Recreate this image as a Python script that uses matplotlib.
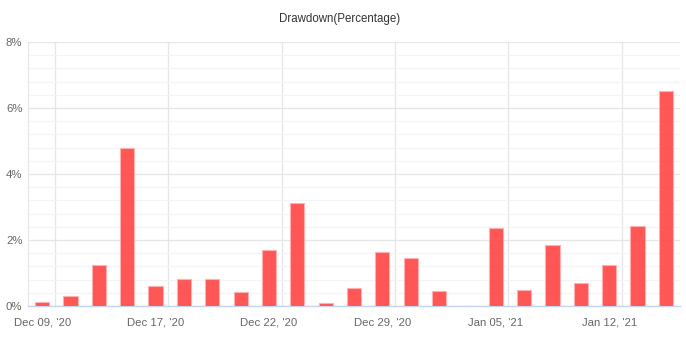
import numpy as np
import matplotlib
matplotlib.use('Agg')
import matplotlib.pyplot as plt
from matplotlib.ticker import MultipleLocator, FuncFormatter

# drawdown per period, in percent (one empty period, value 0)
drawdown = [0.11, 0.29, 1.23, 4.79, 0.60, 0.81, 0.81, 0.41,
            1.69, 3.11, 0.08, 0.55, 1.64, 1.45, 0.45, 0.0,
            2.35, 0.50, 1.85, 0.70, 1.23, 2.42, 6.52]
# labels shown every 4th category
tick_labels = ["Dec 09, '20", "Dec 17, '20", "Dec 22, '20",
               "Dec 29, '20", "Jan 05, '21", "Jan 12, '21"]
label_step = 4

plt.rcParams['font.family'] = ['Liberation Sans', 'DejaVu Sans']

fig = plt.figure(figsize=(6.86, 3.39), dpi=100)
ax = fig.add_axes([28 / 686, 33 / 339, 652 / 686, 264 / 339])

x = np.arange(len(drawdown))
ax.bar(x, drawdown, width=0.5, color=(1.0, 0.3, 0.3, 0.95),
       edgecolor='#ffb0b0', linewidth=0.8, zorder=3)

ax.set_xlim(-0.5, len(drawdown) - 0.5)
ax.set_ylim(0, 8)

# y axis
ax.yaxis.set_major_locator(MultipleLocator(2))
ax.yaxis.set_minor_locator(MultipleLocator(0.4))
ax.yaxis.set_major_formatter(FuncFormatter(lambda v, p: '%d%%' % v))
ax.grid(axis='y', which='major', color='#e6e6e6', linewidth=0.9, zorder=0)
ax.grid(axis='y', which='minor', color='#f4f4f4', linewidth=0.9, zorder=0)

# x axis: labels on category centres, grid on the right edge of those categories
pos = x[::label_step]
ax.set_xticks(pos)
ax.set_xticklabels(tick_labels)
for p in pos:
    ax.axvline(p + 0.45, color='#e6e6e6', linewidth=0.9, zorder=0)

ax.tick_params(axis='both', which='both', length=0, colors='#666666',
               labelsize=8.2)
ax.tick_params(axis='x', pad=8)
ax.tick_params(axis='y', pad=4)

for s in ['top', 'right']:
    ax.spines[s].set_visible(False)
ax.spines['left'].set_color('#e6e6e6')
ax.spines['bottom'].set_color('#c6d4ec')
ax.spines['bottom'].set_linewidth(1.0)

fig.text(340 / 686, 1 - 19 / 339, 'Drawdown(Percentage)', ha='center',
         va='center', fontsize=8.3, color='#333333')

fig.savefig('out.png', dpi=100)
